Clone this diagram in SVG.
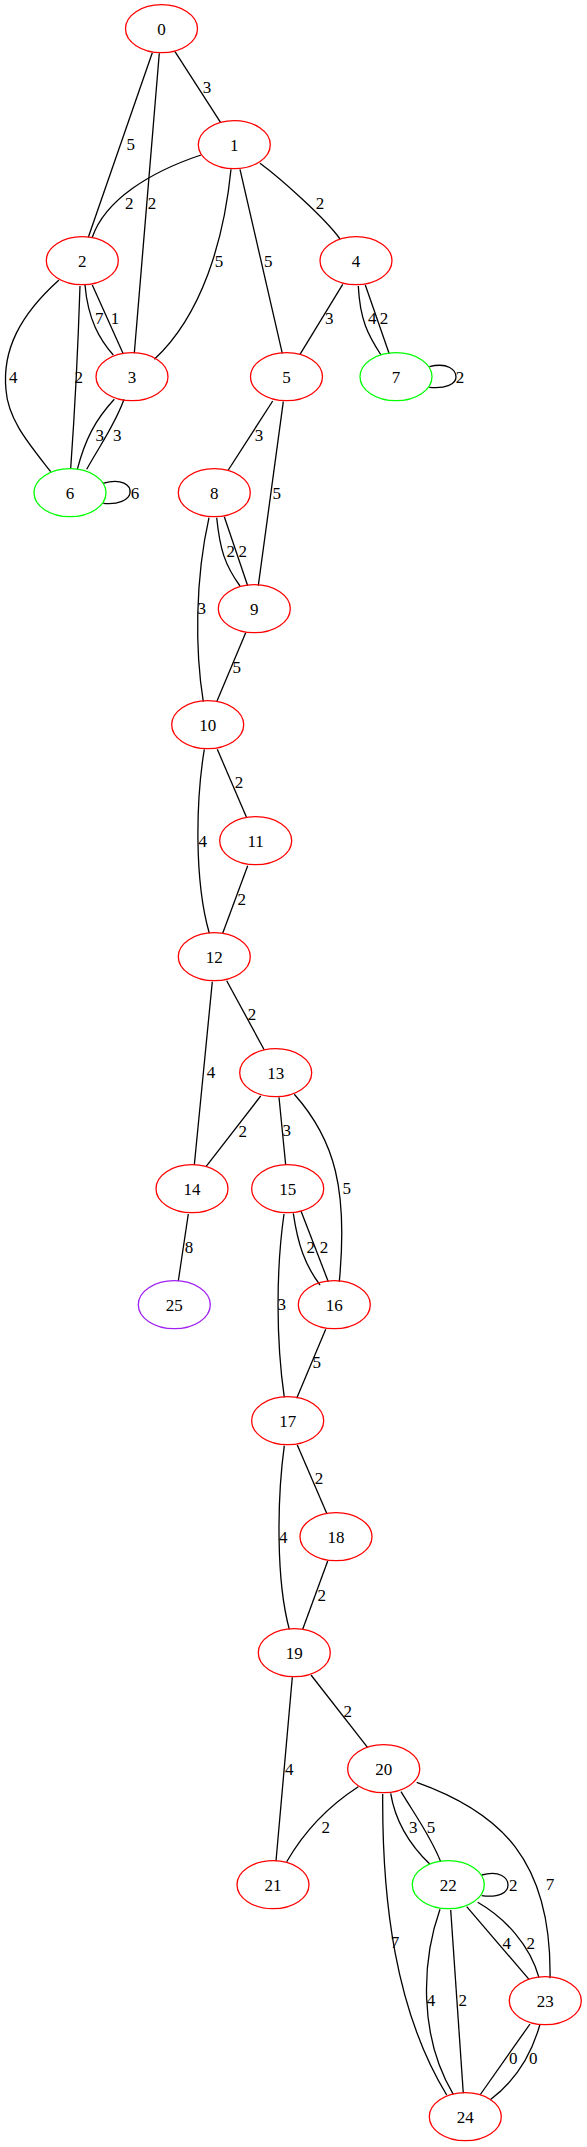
<svg xmlns="http://www.w3.org/2000/svg" width="587" height="2147" viewBox="0 0 587 2147">
<style>
text{font-family:"Liberation Serif","Times New Roman",serif;font-size:17px;fill:#000;text-anchor:middle}
.n ellipse{fill:none;stroke:#ff0000;stroke-width:1.3}
.n.g ellipse{stroke:#00ff00}
.n.p ellipse{stroke:#a020f0}
#edges path{fill:none;stroke:#000;stroke-width:1.3}
</style>
<rect width="587" height="2147" fill="#fff"/>
<g id="edges">
<path d="M175,51.7 L220.7,122.7"/>
<path d="M152.3,52.7 L88.3,237.3"/>
<path d="M159.3,53.3 L134.3,353.3"/>
<path d="M201,155 C150,172 105,200 92.3,237.3"/>
<path d="M231,169.3 C224,240 202,315 154.3,359.3"/>
<path d="M240,169.3 L282.3,353.3"/>
<path d="M260,163.3 C280,178 325,218 340,239"/>
<path d="M85,285 C88,320 100,340 113.3,355"/>
<path d="M92.3,285 L123.3,354"/>
<path d="M59,280 C20,315 2,350 6,390 C8,420 30,445 50.7,471.7"/>
<path d="M80,286 Q77,380 70.7,468.3"/>
<path d="M114.3,399.3 C95,420 85,440 77.3,469.3"/>
<path d="M124,399.3 C115,425 100,445 86.7,469.3"/>
<path d="M102.7,483.3 C122,478 131,485 130,493 C129,500 118,505 103.3,503.3"/>
<path d="M342.7,284.3 L300,354.3"/>
<path d="M358.3,286 C360,320 368,335 381,355"/>
<path d="M365.3,285 L389.3,354"/>
<path d="M429.3,366.7 C448,362 456,370 456,377 C456,384 446,389 429.3,387.3"/>
<path d="M272.7,401 L228.3,470"/>
<path d="M283.3,401.7 L258.3,585.7"/>
<path d="M216.7,517.7 C220,550 225,565 240,586"/>
<path d="M224.3,516.7 L247.7,585.7"/>
<path d="M209,517.7 C195,580 195,650 203.3,701.7"/>
<path d="M245.7,632.7 L216.7,701.7"/>
<path d="M217.3,749.3 L246.7,817.7"/>
<path d="M204.3,749.3 C196,800 194,880 209.3,933.3"/>
<path d="M247.7,865.7 L222.7,933.3"/>
<path d="M226.7,980.7 L264.3,1050"/>
<path d="M212.3,981.7 L194.3,1165"/>
<path d="M260.7,1096 L206,1166.7"/>
<path d="M279,1097.3 L285.7,1165"/>
<path d="M294.3,1094.3 C335,1140 348,1190 339.3,1281.7"/>
<path d="M188.3,1214 L178.3,1281"/>
<path d="M293.3,1213.3 C298,1245 305,1265 320,1285"/>
<path d="M301,1211 L328.3,1281.7"/>
<path d="M284,1214 C276,1270 276,1340 284.3,1397.3"/>
<path d="M325.7,1329.3 L296.7,1398.3"/>
<path d="M297.3,1445 L326.7,1513.3"/>
<path d="M284.3,1445.7 C277,1500 276,1580 289.3,1629.3"/>
<path d="M327.7,1561 L302.7,1629.3"/>
<path d="M311,1675 L367.7,1747.7"/>
<path d="M292.3,1677.3 L276,1861"/>
<path d="M358.3,1786.7 C330,1805 305,1830 286.7,1861.7"/>
<path d="M390.7,1793.3 C395,1820 410,1845 430,1864.3"/>
<path d="M401,1791.7 C415,1815 430,1835 440.7,1861.7"/>
<path d="M382.7,1794 C382,1900 395,2010 446.7,2095"/>
<path d="M416.7,1782.3 C500,1812 552,1860 550,1978.3"/>
<path d="M481.7,1875 C500,1870 508,1878 508,1885 C508,1892 500,1898 481.7,1895.7"/>
<path d="M466.7,1906.7 L529,1979.3"/>
<path d="M477.7,1902.3 C505,1918 530,1945 539,1977.7"/>
<path d="M440,1909.3 C422,1960 418,2035 453.3,2094.3"/>
<path d="M450.7,1910 L463.3,2093.3"/>
<path d="M530,2024 L480,2095"/>
<path d="M540,2024.3 C530,2060 510,2085 490,2100"/>
</g>
<g id="edge-labels">
<text x="207" y="92.7">3</text>
<text x="130.7" y="150.3">5</text>
<text x="152" y="209">2</text>
<text x="129.3" y="209">2</text>
<text x="219" y="267">5</text>
<text x="268.3" y="267">5</text>
<text x="320" y="209">2</text>
<text x="99.3" y="324.3">7</text>
<text x="115" y="324.3">1</text>
<text x="13.3" y="382.7">4</text>
<text x="78.7" y="382.7">2</text>
<text x="99.7" y="441">3</text>
<text x="117.3" y="441">3</text>
<text x="135" y="498.7">6</text>
<text x="329.3" y="324.3">3</text>
<text x="372.3" y="324.3">4</text>
<text x="384" y="324.3">2</text>
<text x="460" y="382.7">2</text>
<text x="259" y="441">3</text>
<text x="276.7" y="498.7">5</text>
<text x="230.7" y="556.7">2</text>
<text x="242.7" y="556.7">2</text>
<text x="201.7" y="614.3">3</text>
<text x="236.7" y="672.7">5</text>
<text x="239" y="788.3">2</text>
<text x="202.7" y="846.7">4</text>
<text x="241.7" y="905">2</text>
<text x="252" y="1020">2</text>
<text x="211" y="1078.3">4</text>
<text x="242.7" y="1136.7">2</text>
<text x="286.7" y="1136">3</text>
<text x="346.7" y="1194.3">5</text>
<text x="189" y="1252.7">8</text>
<text x="310.7" y="1252.7">2</text>
<text x="324" y="1252.7">2</text>
<text x="281.7" y="1310.3">3</text>
<text x="316.7" y="1368.3">5</text>
<text x="319" y="1484.3">2</text>
<text x="283.3" y="1542.7">4</text>
<text x="321.7" y="1601">2</text>
<text x="347.7" y="1717">2</text>
<text x="289.3" y="1775">4</text>
<text x="325.7" y="1833.3">2</text>
<text x="413.3" y="1832.7">3</text>
<text x="431" y="1832.7">5</text>
<text x="395" y="1947.7">7</text>
<text x="550" y="1890.3">7</text>
<text x="513.3" y="1891">2</text>
<text x="506.7" y="1948.7">4</text>
<text x="530.7" y="1948.7">2</text>
<text x="431" y="2006">4</text>
<text x="462.7" y="2006">2</text>
<text x="513.3" y="2064.3">0</text>
<text x="533.3" y="2064.3">0</text>
</g>
<g id="node0" class="n"><ellipse cx="161.5" cy="28.7" rx="36" ry="24"/><text x="161.5" y="34.7">0</text></g>
<g id="node1" class="n"><ellipse cx="234.3" cy="144.7" rx="36" ry="24"/><text x="234.3" y="150.7">1</text></g>
<g id="node2" class="n"><ellipse cx="82.3" cy="260.7" rx="36" ry="24"/><text x="82.3" y="266.7">2</text></g>
<g id="node3" class="n"><ellipse cx="132" cy="376.7" rx="36" ry="24"/><text x="132" y="382.7">3</text></g>
<g id="node4" class="n"><ellipse cx="356" cy="260.7" rx="36" ry="24"/><text x="356" y="266.7">4</text></g>
<g id="node5" class="n"><ellipse cx="286.5" cy="376.7" rx="36" ry="24"/><text x="286.5" y="382.7">5</text></g>
<g id="node6" class="n g"><ellipse cx="70" cy="492.7" rx="36" ry="24"/><text x="70" y="498.7">6</text></g>
<g id="node7" class="n g"><ellipse cx="396" cy="376.7" rx="36" ry="24"/><text x="396" y="382.7">7</text></g>
<g id="node8" class="n"><ellipse cx="214.3" cy="492.7" rx="36" ry="24"/><text x="214.3" y="498.7">8</text></g>
<g id="node9" class="n"><ellipse cx="254.3" cy="608.7" rx="36" ry="24"/><text x="254.3" y="614.7">9</text></g>
<g id="node10" class="n"><ellipse cx="207.7" cy="724.7" rx="36" ry="24"/><text x="207.7" y="730.7">10</text></g>
<g id="node11" class="n"><ellipse cx="255.7" cy="840.7" rx="36" ry="24"/><text x="255.7" y="846.7">11</text></g>
<g id="node12" class="n"><ellipse cx="214.3" cy="956.7" rx="36" ry="24"/><text x="214.3" y="962.7">12</text></g>
<g id="node13" class="n"><ellipse cx="275.7" cy="1072.7" rx="36" ry="24"/><text x="275.7" y="1078.7">13</text></g>
<g id="node14" class="n"><ellipse cx="192" cy="1188.7" rx="36" ry="24"/><text x="192" y="1194.7">14</text></g>
<g id="node15" class="n"><ellipse cx="287.7" cy="1188.7" rx="36" ry="24"/><text x="287.7" y="1194.7">15</text></g>
<g id="node16" class="n"><ellipse cx="334.3" cy="1304.7" rx="36" ry="24"/><text x="334.3" y="1310.7">16</text></g>
<g id="node17" class="n"><ellipse cx="287.7" cy="1420.7" rx="36" ry="24"/><text x="287.7" y="1426.7">17</text></g>
<g id="node18" class="n"><ellipse cx="336" cy="1536.7" rx="36" ry="24"/><text x="336" y="1542.7">18</text></g>
<g id="node19" class="n"><ellipse cx="294.3" cy="1652.7" rx="36" ry="24"/><text x="294.3" y="1658.7">19</text></g>
<g id="node20" class="n"><ellipse cx="383.7" cy="1768.7" rx="36" ry="24"/><text x="383.7" y="1774.7">20</text></g>
<g id="node21" class="n"><ellipse cx="273" cy="1884.7" rx="36" ry="24"/><text x="273" y="1890.7">21</text></g>
<g id="node22" class="n g"><ellipse cx="448.3" cy="1884.7" rx="36" ry="24"/><text x="448.3" y="1890.7">22</text></g>
<g id="node23" class="n"><ellipse cx="545.3" cy="2000.7" rx="36" ry="24"/><text x="545.3" y="2006.7">23</text></g>
<g id="node24" class="n"><ellipse cx="465.3" cy="2116.7" rx="36" ry="24"/><text x="465.3" y="2122.7">24</text></g>
<g id="node25" class="n p"><ellipse cx="174.3" cy="1304.7" rx="36" ry="24"/><text x="174.3" y="1310.7">25</text></g>
</svg>
